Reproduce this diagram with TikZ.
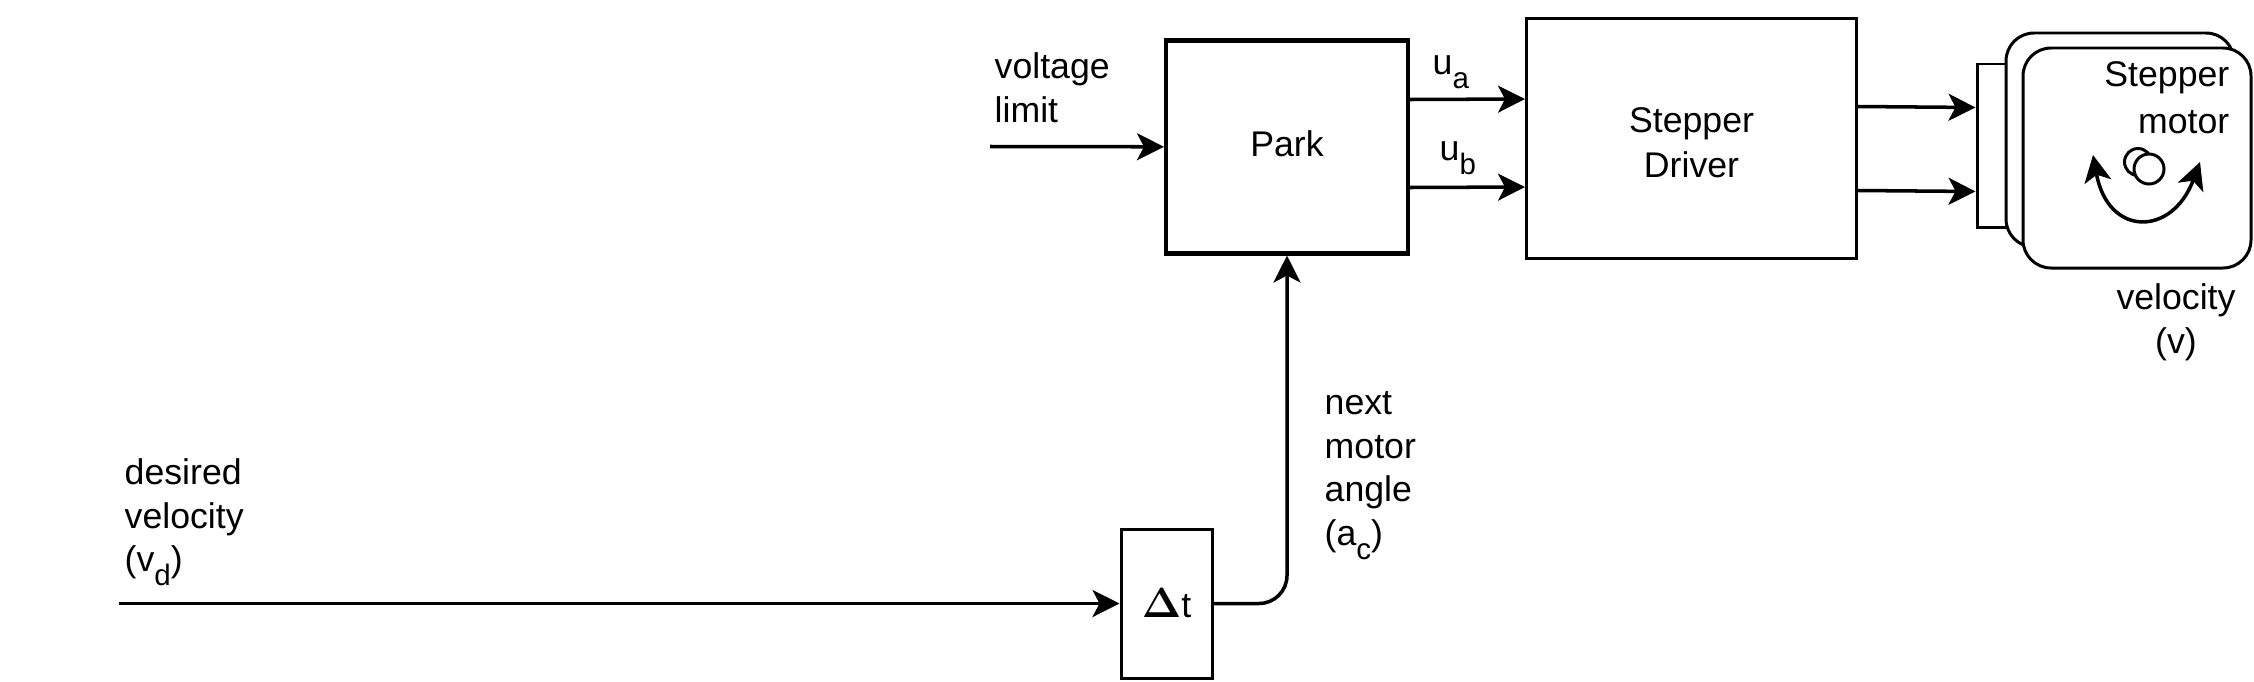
\documentclass[tikz,border=0pt]{standalone}
\usepackage{fontspec}
\setmainfont{Liberation Sans}
\usepackage{tikz}
\usepackage{bm}
\usetikzlibrary{arrows.meta}

\newcommand{\lowsub}[1]{\raisebox{-0.38em}{\fontsize{8.4}{9}\selectfont #1}}
\tikzset{
	blockbox/.style={draw,line width=0.85pt,minimum width=#1,inner sep=0pt},
	flow/.style={line width=1pt,-{Stealth[length=0.27cm,width=0.27cm,inset=0.07cm]}},
	txt/.style={inner sep=0pt,align=left,font=\fontsize{10.15}{12.4}\selectfont},
	motorbox/.style={draw,fill=white,line width=0.85pt,rounded corners=0.28cm,minimum width=2.28cm,minimum height=2.2cm}
}

\begin{document}
\begin{tikzpicture}
	\useasboundingbox (0,0) rectangle (22.54,-6.81);
	\node[blockbox=2.42cm,minimum height=2.13cm,line width=1.15pt,txt] at (12.87,-1.47) (park) {\raisebox{0.06cm}{Park}};
	\node[blockbox=3.3cm,minimum height=2.4cm,txt,align=center] at (16.915,-1.385) (driver) {\rule{0pt}{0.33cm}Stepper\\[0.01cm]Driver};
	\node[blockbox=0.91cm,minimum height=1.49cm,txt] at (11.665,-6.035) (dt) {\fontsize{12}{12}\selectfont$\bm{\Delta}$\fontsize{10.15}{12}\selectfont t};
	\node[blockbox=0.29cm,minimum height=1.63cm] at (19.915,-1.455) (plate) {};
	\node[motorbox,minimum height=2.14cm] at (21.2,-1.4) (motorb) {};
	\node[motorbox] at (21.37,-1.58) (motor) {};
	\node[circle,draw,fill=white,line width=0.85pt,minimum size=0.27cm,inner sep=0pt] at (21.38,-1.62) (rotorb) {};
	\node[circle,draw,fill=white,line width=0.85pt,minimum size=0.3cm,inner sep=0pt] at (21.49,-1.69) (rotor) {};
	\node[txt,align=right,anchor=north east] at (22.3,-0.61) (motortxt) {Stepper\\[0.03cm]motor};
	\node[txt,align=center,anchor=north] at (21.76,-2.83) (veltxt) {velocity\\(v)};
	\node[txt,anchor=north west] at (9.94,-0.52) (limittxt) {voltage\\limit};
	\node[txt,anchor=north west] at (14.32,-0.55) (uatxt) {u\lowsub{a}};
	\node[txt,anchor=north west] at (14.39,-1.41) (ubtxt) {u\lowsub{b}};
	\node[txt,anchor=north west] at (13.24,-3.91) (angletxt) {next\\motor\\angle\\(a\lowsub{c})};
	\node[txt,anchor=north west] at (1.24,-4.58) (desiredtxt) {desired\\velocity\\(v\lowsub{d})};
	\coordinate (limitin) at (9.9,-1.465);
	\coordinate (velin) at (1.19,-6.035);
	\coordinate (swingl) at (20.93,-1.55);
	\coordinate (swingr) at (22.0,-1.62);
	\path[flow] (limitin) edge (park);
	\path[flow] (velin) edge (dt);
	\draw[flow,rounded corners=0.28cm] (dt.east) -| (park.south);
	\path[flow] ([yshift=0.475cm]park.east) edge ([yshift=0.395cm]driver.west);
	\path[flow] ([yshift=-0.405cm]park.east) edge ([yshift=-0.485cm]driver.west);
	\path[flow] ([yshift=0.32cm]driver.east) edge ([yshift=0.38cm]plate.west);
	\path[flow] ([yshift=-0.52cm]driver.east) edge ([yshift=-0.46cm]plate.west);
	\draw[line width=1pt,{Stealth[length=0.27cm,width=0.27cm,inset=0.07cm]}-{Stealth[length=0.27cm,width=0.27cm,inset=0.07cm]}] (swingl) .. controls (21.08,-2.37) and (21.72,-2.37) .. (swingr);
\end{tikzpicture}
\end{document}
